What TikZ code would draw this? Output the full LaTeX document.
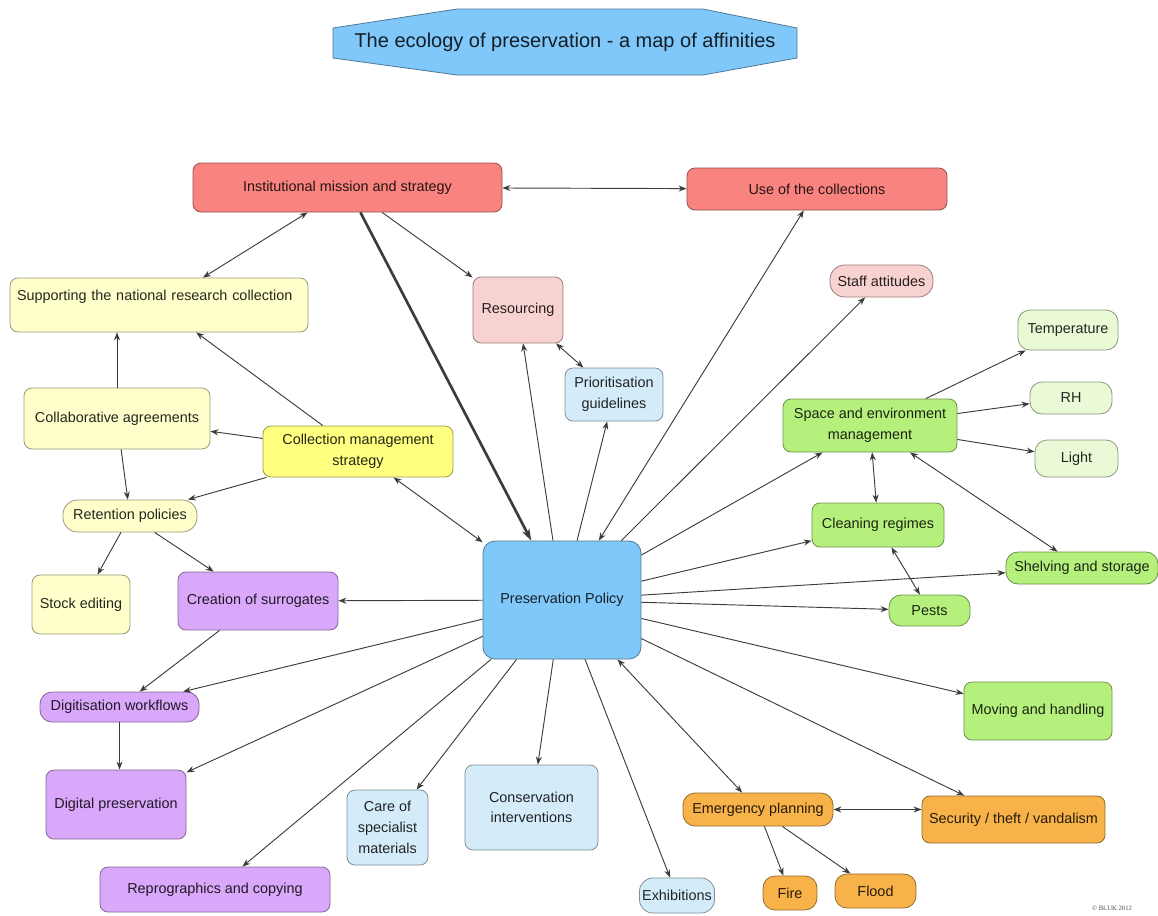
\documentclass[tikz,border=0pt]{standalone}
\usepackage{fontspec}
\setmainfont{Liberation Sans}
\newfontfamily\copyfont{Liberation Serif}
\usepackage{tikz}
\usetikzlibrary{arrows.meta}

\definecolor{redbox}{RGB}{249,132,127}
\definecolor{pinkbox}{RGB}{248,210,208}
\definecolor{paleyel}{RGB}{255,255,204}
\definecolor{yelbox}{RGB}{255,255,128}
\definecolor{purpbox}{RGB}{218,168,250}
\definecolor{bluebox}{RGB}{128,200,250}
\definecolor{paleblue}{RGB}{212,236,250}
\definecolor{greenbox}{RGB}{182,240,124}
\definecolor{palegreen}{RGB}{234,250,214}
\definecolor{orangebox}{RGB}{248,178,74}
\definecolor{linecol}{RGB}{60,60,60}

\begin{document}
\begin{tikzpicture}[x=0.75pt, y=-0.75pt, >={Stealth[length=6pt,width=4.5pt]},
	box/.style={draw=#1!60!black, fill=#1, rounded corners=6pt, text=#1!15!black, line width=0.6pt,
		font=\fontsize{10.8}{15.5}\selectfont, align=center, inner sep=2pt},
	sz/.style 2 args={minimum width=#1*0.75pt, minimum height=#2*0.75pt},
	ed/.style={draw=linecol, line width=0.7pt}]
	\useasboundingbox (0,0) rectangle (1158,915);
	% Titel
		\draw[fill=bluebox, draw=bluebox!60!black, line width=0.6pt] (333,28) -- (457,9) -- (703,9) -- (797,28)
			-- (797,58) -- (703,75) -- (457,75) -- (333,58) -- cycle;
		\node (title) at (565,42) [font=\fontsize{15}{18}\selectfont, text=bluebox!15!black] {The ecology of preservation - a map of affinities};
	% Knoten
		\node (inst) at (347.5,187.5) [box=redbox, sz={309}{49}] {Institutional mission and strategy};
		\node (use) at (817,189) [box=redbox, sz={260}{42}] {Use of the collections};
		\node (supp) at (159,305) [box=paleyel, sz={298}{54}, align=left, text width=213pt, inner xsep=5pt, text height=8pt, text depth=15pt] {Supporting the national research collection};
		\node (res) at (518,310) [box=pinkbox, sz={90}{66}] {Resourcing};
		\node (staff) at (881.5,281) [box=pinkbox, sz={103}{32}, rounded corners=11pt] {Staff attitudes};
		\node (prio) at (614,394.5) [box=paleblue, sz={98}{53}] {Prioritisation\\guidelines};
		\node (temp) at (1068,330) [box=palegreen, sz={100}{40}, rounded corners=9pt] {Temperature};
		\node (rh) at (1071,398) [box=palegreen, sz={82}{32}, rounded corners=9pt] {RH};
		\node (light) at (1076.5,458.5) [box=palegreen, sz={83}{37}, rounded corners=9pt] {Light};
		\node (space) at (870,425.5) [box=greenbox, sz={174}{53}] {Space and environment\\management};
		\node (collab) at (117,418.5) [box=paleyel, sz={186}{61}] {Collaborative agreements};
		\node (cms) at (358,451.5) [box=yelbox, sz={190}{51}] {Collection management\\strategy};
		\node (ret) at (130,516) [box=paleyel, sz={134}{32}, rounded corners=11pt] {Retention policies};
		\node (stock) at (81,604.5) [box=paleyel, sz={98}{59}] {Stock editing};
		\node (surr) at (258,601) [box=purpbox, sz={160}{58}] {Creation of surrogates};
		\node (pp) at (562,600) [box=bluebox, sz={158}{118}, rounded corners=9pt] {Preservation Policy};
		\node (clean) at (878,525) [box=greenbox, sz={132}{44}] {Cleaning regimes};
		\node (shelv) at (1082,568) [box=greenbox, sz={152}{32}, rounded corners=9pt] {Shelving and storage};
		\node (pests) at (929.5,610.5) [box=greenbox, sz={81}{31}, rounded corners=9pt] {Pests};
		\node (digit) at (119.5,707) [box=purpbox, sz={159}{30}, rounded corners=9pt] {Digitisation workflows};
		\node (moving) at (1038,711) [box=greenbox, sz={148}{58}] {Moving and handling};
		\node (digpres) at (116,804.5) [box=purpbox, sz={140}{69}] {Digital preservation};
		\node (care) at (387.5,827.5) [box=paleblue, sz={81}{75}] {Care of\\specialist\\materials};
		\node (cons) at (531.5,807.5) [box=paleblue, sz={133}{85}] {Conservation\\interventions};
		\node (emerg) at (758,809.5) [box=orangebox, sz={150}{33}, rounded corners=9pt] {Emergency planning};
		\node (secur) at (1013.5,819.5) [box=orangebox, sz={183}{47}] {Security / theft / vandalism};
		\node (repro) at (215,889.5) [box=purpbox, sz={230}{45}] {Reprographics and copying};
		\node (exhib) at (677,895.5) [box=paleblue, sz={74}{35}, rounded corners=10pt] {Exhibitions};
		\node (fire) at (790,893) [box=orangebox, sz={54}{34}, rounded corners=9pt] {Fire};
		\node (flood) at (875.5,891) [box=orangebox, sz={81}{34}, rounded corners=9pt] {Flood};
		\node (copy) at (1112,908) [font=\copyfont\fontsize{5}{6}\selectfont, text=black!70] {\textcopyright{} BLUK 2012};
	% Kanten
		\draw[ed,<->] (inst) -- (use);
		\draw[ed,<->] (inst) -- (supp);
		\draw[ed,line width=2pt,-{Stealth[length=9pt,width=6pt]}] (inst) -- (pp);
		\draw[ed,->] (inst) -- (res);
		\draw[ed,->] (pp) -- (res);
		\draw[ed,<->] (res) -- (prio);
		\draw[ed,->] (pp) -- (prio);
		\draw[ed,<->] (pp) -- (use);
		\draw[ed,->] (pp) -- (staff);
		\draw[ed,->] (cms) -- (supp);
		\draw[ed,->] (collab.north) -- (collab.north |- supp.south);
		\draw[ed,->] (cms) -- (collab);
		\draw[ed,->] (collab) -- (ret);
		\draw[ed,->] (cms) -- (ret);
		\draw[ed,<->] (cms) -- (pp);
		\draw[ed,->] (ret) -- (stock);
		\draw[ed,->] (ret) -- (surr);
		\draw[ed,->] (pp) -- (surr);
		\draw[ed,->] (surr) -- (digit);
		\draw[ed,->] (pp) -- (digit);
		\draw[ed,->] (digit.south) -- (digit.south |- digpres.north);
		\draw[ed,->] (pp) -- (digpres);
		\draw[ed,->] (pp) -- (repro);
		\draw[ed,->] (pp) -- (care);
		\draw[ed,->] (pp) -- (cons);
		\draw[ed,->] (pp) -- (exhib);
		\draw[ed,<->] (pp) -- (emerg);
		\draw[ed,->] (pp) -- (secur);
		\draw[ed,<->] (emerg) -- (emerg -| secur.west);
		\draw[ed,->] (emerg) -- (fire);
		\draw[ed,->] (emerg) -- (flood);
		\draw[ed,->] (pp) -- (moving);
		\draw[ed,->] (pp) -- (pests);
		\draw[ed,->] (pp) -- (shelv);
		\draw[ed,->] (pp) -- (clean);
		\draw[ed,->] (pp) -- (space);
		\draw[ed,<->] (space) -- (clean);
		\draw[ed,<->] (space) -- (shelv);
		\draw[ed,<->] (clean) -- (pests);
		\draw[ed,->] (space) -- (temp);
		\draw[ed,->] (space) -- (rh);
		\draw[ed,->] (space) -- (light);
\end{tikzpicture}
\end{document}
